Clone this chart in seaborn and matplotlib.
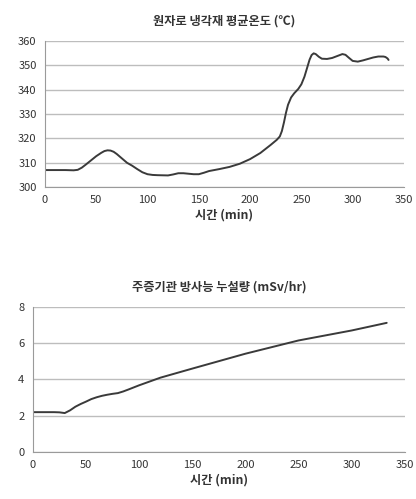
import numpy as np
import pandas as pd
import seaborn as sns
import matplotlib.pyplot as plt

# -----------------------------
# Data
# -----------------------------
temp_time = [0, 10, 20, 28, 32, 36, 40, 45, 50, 55, 58, 61, 64, 67, 70, 75, 80, 85,
             90, 95, 100, 105, 110, 120, 125, 130, 135, 140, 145, 150, 155, 160,
             170, 180, 190, 200, 210, 220, 226, 229, 231, 233, 235, 237, 240, 243,
             247, 250, 253, 256, 258, 260, 262, 264, 267, 270, 275, 280, 285, 290,
             293, 296, 300, 305, 310, 315, 320, 325, 330, 332, 334, 335]
temp_vals = [307, 307, 307, 306.9, 307.1, 308, 309.3, 311, 312.7, 314.1, 314.8,
             315.1, 315, 314.5, 313.6, 311.8, 310, 308.8, 307.4, 306.1, 305.3,
             305, 304.9, 304.8, 305.2, 305.7, 305.7, 305.5, 305.3, 305.3, 305.9,
             306.6, 307.4, 308.3, 309.6, 311.5, 314, 317.3, 319.4, 320.8, 323,
             326.5, 330.5, 333.8, 336.8, 338.5, 340.3, 342.2, 345.3, 349.5, 352.3,
             354.2, 354.9, 354.6, 353.5, 352.7, 352.6, 353, 353.8, 354.6, 354.3,
             353.2, 351.8, 351.5, 352, 352.6, 353.2, 353.6, 353.6, 353.4, 352.8,
             352.2]

leak_time = [0, 10, 20, 25, 30, 35, 40, 45, 50, 55, 60, 65, 70, 75, 80, 85, 90, 100,
             120, 150, 200, 250, 300, 333]
leak_vals = [2.2, 2.2, 2.2, 2.19, 2.15, 2.3, 2.5, 2.65, 2.78, 2.92, 3.02, 3.1,
             3.16, 3.21, 3.25, 3.34, 3.45, 3.68, 4.1, 4.6, 5.42, 6.15, 6.7, 7.12]

X_TICKS = [0, 50, 100, 150, 200, 250, 300, 350]

# -----------------------------
# Style
# -----------------------------
sns.set_theme(style="white")
plt.rcParams["font.family"] = ["Noto Sans CJK KR", "DejaVu Sans"]

LINE = "#3a3a3a"
GRID = "#bdbdbd"
TXT = "#333333"


def style_axis(ax, yticks, title):
    ax.set_xlim(0, 350)
    ax.set_xticks(X_TICKS)
    ax.set_ylim(yticks[0], yticks[-1])
    ax.set_yticks(yticks)
    ax.grid(axis="y", color=GRID, linewidth=1.0)
    ax.grid(axis="x", visible=False)
    for side in ["top", "right"]:
        ax.spines[side].set_visible(False)
    for side in ["left", "bottom"]:
        ax.spines[side].set_color("#9a9a9a")
        ax.spines[side].set_linewidth(0.8)
    ax.tick_params(axis="x", length=3, color="#9a9a9a", labelsize=8, labelcolor=TXT, pad=3)
    ax.tick_params(axis="y", length=3, color="#9a9a9a", labelsize=8, labelcolor=TXT, pad=3)
    ax.set_title(title, fontsize=8.8, fontweight="bold", color=TXT, pad=12)
    ax.set_xlabel("시간 (min)", fontsize=8.8, fontweight="bold", color=TXT, labelpad=2)
    ax.set_ylabel("")


fig = plt.figure(figsize=(4.16, 4.99), dpi=100)
ax1 = fig.add_axes([0.108, 0.625, 0.863, 0.293])
ax2 = fig.add_axes([0.079, 0.094, 0.894, 0.291])

df_temp = pd.DataFrame({"time": temp_time, "value": temp_vals})
df_leak = pd.DataFrame({"time": leak_time, "value": leak_vals})

sns.lineplot(data=df_temp, x="time", y="value", ax=ax1, color=LINE, linewidth=1.4)
sns.lineplot(data=df_leak, x="time", y="value", ax=ax2, color=LINE, linewidth=1.4)

style_axis(ax1, [300, 310, 320, 330, 340, 350, 360], "원자로 냉각재 평균온도 (℃)")
style_axis(ax2, [0, 2, 4, 6, 8], "주증기관 방사능 누설량 (mSv/hr)")

fig.savefig("out.png", dpi=100)
